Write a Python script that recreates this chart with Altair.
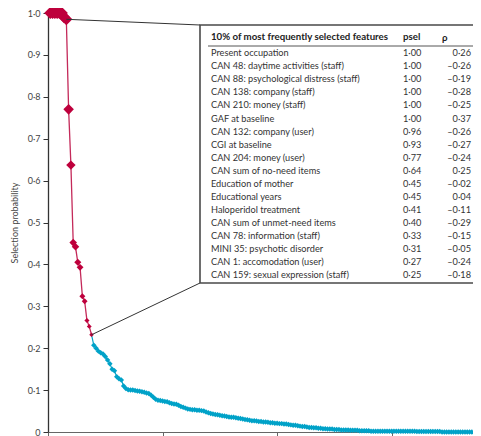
import altair as alt
import pandas as pd

# ---- data ----
red_values = [1.0, 1.0, 1.0, 1.0, 1.0, 1.0, 0.99, 0.985, 0.77, 0.637, 0.452, 0.442,
              0.405, 0.393, 0.324, 0.312, 0.266, 0.252, 0.232]
blue_values = [
    0.207, 0.200, 0.193, 0.189, 0.186, 0.180, 0.172, 0.163, 0.150, 0.146,
    0.132, 0.127, 0.124, 0.110, 0.104, 0.101, 0.100, 0.100, 0.099, 0.098,
    0.097, 0.096, 0.095, 0.093, 0.092, 0.088, 0.083, 0.078, 0.076, 0.075,
    0.074, 0.073, 0.072, 0.070, 0.068, 0.067, 0.066, 0.064, 0.061, 0.059,
    0.057, 0.055, 0.054, 0.053, 0.053, 0.052, 0.052, 0.051, 0.050, 0.048,
    0.046, 0.044, 0.043, 0.042, 0.041, 0.040, 0.039, 0.038, 0.037, 0.036,
    0.035, 0.035, 0.034, 0.033, 0.032, 0.031, 0.030, 0.029, 0.028, 0.027,
    0.027, 0.026, 0.025, 0.025, 0.024, 0.024, 0.023, 0.022, 0.022, 0.021,
    0.021, 0.020, 0.020, 0.019, 0.019, 0.018, 0.017, 0.016, 0.016, 0.015,
    0.014, 0.013, 0.013, 0.012, 0.011, 0.011, 0.010, 0.010, 0.009, 0.009,
    0.008, 0.008, 0.007, 0.007, 0.007, 0.006, 0.006, 0.006, 0.005, 0.005,
    0.005, 0.005, 0.004, 0.004, 0.004, 0.004, 0.003, 0.003, 0.003, 0.003,
    0.003, 0.002, 0.002, 0.002, 0.002, 0.002, 0.002, 0.002, 0.002, 0.002,
    0.002, 0.002, 0.002, 0.002, 0.002, 0.002, 0.002, 0.002, 0.002, 0.002,
    0.002, 0.001, 0.001, 0.001, 0.001, 0.001, 0.001, 0.001, 0.001, 0.001,
    0.001, 0.001, 0.0, 0.0, 0.0, 0.0, 0.0, 0.0, 0.0, 0.0,
    0.0, 0.0, 0.0, 0.0, 0.0, 0.0, 0.0, 0.0, 0.0, 0.0,
]

features = [
    "Present occupation", "CAN 48: daytime activities (staff)",
    "CAN 88: psychological distress (staff)", "CAN 138: company (staff)",
    "CAN 210: money (staff)", "GAF at baseline", "CAN 132: company (user)",
    "CGI at baseline", "CAN 204: money (user)", "CAN sum of no-need items",
    "Education of mother", "Educational years", "Haloperidol treatment",
    "CAN sum of unmet-need items", "CAN 78: information (staff)",
    "MINI 35: psychotic disorder", "CAN 1: accomodation (user)",
    "CAN 159: sexual expression (staff)",
]
psel = [1.00, 1.00, 1.00, 1.00, 1.00, 1.00, 0.96, 0.93, 0.77, 0.64, 0.45, 0.45,
        0.41, 0.40, 0.33, 0.31, 0.27, 0.25]
rho = [0.26, -0.26, -0.19, -0.28, -0.25, 0.37, -0.26, -0.27, -0.24, 0.25, -0.02,
       0.04, -0.11, -0.29, -0.15, -0.05, -0.24, -0.18]

HEADER = "10% of most frequently selected features"

# ---- build tables ----
red_df = pd.DataFrame({"rank": range(1, len(red_values) + 1), "value": red_values})
blue_df = pd.DataFrame({"rank": range(len(red_values) + 1, len(red_values) + 1 + len(blue_values)),
                        "value": blue_values})
blue_line_df = pd.concat([red_df.tail(1), blue_df])


def fmt(v):
    return f"{v:.2f}".replace(".", "\u00b7").replace("-", "\u2013")


table_df = pd.DataFrame({
    "row": range(len(features)),
    "feature": features,
    "psel": [fmt(v) for v in psel],
    "rho": [fmt(v) for v in rho],
})

RED = "#be003c"
RED_LINE = "#c42a5a"
BLUE = "#00a2c8"
FONT = "Lato"

xscale = alt.Scale(domain=[0, 185.5], nice=False, zero=False)
yscale = alt.Scale(domain=[0, 1], nice=False)

x_axis = alt.Axis(values=[0, 50, 100, 150], labels=False, title=None, tickSize=4,
                  grid=False, domainColor="#666", tickColor="#666", domainWidth=1)
y_axis = alt.Axis(values=[0, 0.1, 0.2, 0.3, 0.4, 0.5, 0.6, 0.7, 0.8, 0.9, 1.0],
                  labelExpr="datum.value == 0 ? '0' : replace(format(datum.value, '.1f'), '.', '\u00b7')",
                  tickSize=5, labelPadding=3, domainColor="#333", tickColor="#333",
                  labelColor="#444", labelFontSize=9, labelFont=FONT,
                  title="Selection probability", titleFontSize=9, titleFont=FONT,
                  titleFontWeight="normal", titleColor="#444", titlePadding=8,
                  grid=False, domainWidth=1.3)

blue_line = alt.Chart(blue_line_df).mark_line(color=BLUE, strokeWidth=1.2).encode(
    x=alt.X("rank:Q", scale=xscale, axis=x_axis),
    y=alt.Y("value:Q", scale=yscale, axis=y_axis),
)
blue_pts = alt.Chart(blue_df).mark_point(shape="diamond", filled=True, color=BLUE,
                                         opacity=1, size=30).encode(
    x=alt.X("rank:Q", scale=xscale),
    y=alt.Y("value:Q", scale=yscale, axis=None),
)
red_line = alt.Chart(red_df).mark_line(color=RED_LINE, strokeWidth=1.3).encode(
    x=alt.X("rank:Q", scale=xscale),
    y=alt.Y("value:Q", scale=yscale, axis=None),
)
red_pts = alt.Chart(red_df).mark_point(shape="diamond", filled=True, color=RED,
                                       opacity=1).encode(
    x=alt.X("rank:Q", scale=xscale),
    y=alt.Y("value:Q", scale=yscale, axis=None),
    size=alt.Size("value:Q", scale=alt.Scale(domain=[0.23, 1], range=[20, 150]), legend=None),
)

# inset box layout (plot-area pixels)
BOX_L, BOX_R, BOX_T, BOX_B = 152, 440, 12, 270

conn_top = alt.Chart(red_df.iloc[[7]]).mark_rule(color="#333", strokeWidth=1).encode(
    x=alt.X("rank:Q", scale=xscale),
    y=alt.Y("value:Q", scale=yscale, axis=None),
    x2=alt.value(BOX_L), y2=alt.value(BOX_T),
)
conn_bot = alt.Chart(red_df.tail(1)).mark_rule(color="#333", strokeWidth=1).encode(
    x=alt.X("rank:Q", scale=xscale),
    y=alt.Y("value:Q", scale=yscale, axis=None),
    x2=alt.value(BOX_L), y2=alt.value(BOX_B),
)

header_df = pd.DataFrame({"t": [HEADER], "p": ["psel"], "r": ["\u03c1"]})

box = alt.Chart(header_df).mark_rect(fill="white", stroke="#4a4a4a", strokeWidth=1.6).encode(
    x=alt.value(BOX_L), x2=alt.value(BOX_R), y=alt.value(BOX_T), y2=alt.value(BOX_B)
)
header_rule = alt.Chart(header_df).mark_rule(color="#555", strokeWidth=1).encode(
    x=alt.value(160), x2=alt.value(BOX_R), y=alt.value(33)
)
header_txt = alt.Chart(header_df).mark_text(align="left", baseline="middle", font=FONT,
                                            fontSize=9.7, fontWeight="bold", color="#222").encode(
    x=alt.value(163), y=alt.value(24), text="t:N")
header_psel = alt.Chart(header_df).mark_text(align="left", baseline="middle", font=FONT,
                                             fontSize=9.7, fontWeight="bold", color="#222").encode(
    x=alt.value(355), y=alt.value(24), text="p:N")
header_rho = alt.Chart(header_df).mark_text(align="left", baseline="middle", font=FONT,
                                            fontSize=9.7, fontWeight="bold", color="#222").encode(
    x=alt.value(394), y=alt.value(25), text="r:N")

row_y = alt.Y("row:Q", scale=alt.Scale(domain=[0, 17], range=[40.3, 262]), axis=None)
txt_feat = alt.Chart(table_df).mark_text(align="left", baseline="middle", font=FONT,
                                         fontSize=9.2, color="#333").encode(
    x=alt.value(163), y=row_y, text="feature:N")
txt_psel = alt.Chart(table_df).mark_text(align="left", baseline="middle", font=FONT,
                                         fontSize=9.2, color="#333").encode(
    x=alt.value(355), y=row_y, text="psel:N")
txt_rho = alt.Chart(table_df).mark_text(align="right", baseline="middle", font=FONT,
                                        fontSize=9.2, color="#333").encode(
    x=alt.value(423), y=row_y, text="rho:N")

chart = alt.layer(
    blue_line, blue_pts, red_line, red_pts, conn_top, conn_bot, box, header_rule,
    header_txt, header_psel, header_rho, txt_feat, txt_psel, txt_rho,
).resolve_scale(y="independent").properties(
    width=425, height=419,
    autosize=alt.AutoSizeParams(type="none"),
    padding={"left": 40, "top": 5, "right": 0, "bottom": 4},
).configure_view(stroke=None)

chart.save("out.html", embed_options={"renderer": "svg", "actions": False})
